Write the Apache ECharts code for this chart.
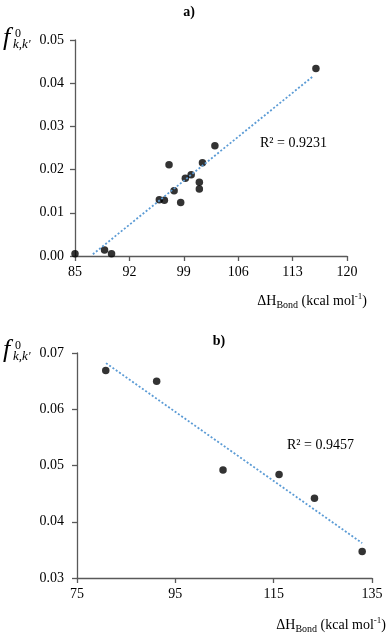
<!DOCTYPE html>
<html>
<head>
<meta charset="utf-8">
<script src="https://cdn.jsdelivr.net/npm/echarts@6/dist/echarts.min.js"></script>
<style>
  html, body { margin: 0; padding: 0; background: #fff; }
  #chart { width: 387px; height: 635px; }
</style>
</head>
<body>
<div id="chart"></div>
<script>
  // panel a) data
  var bondA = [85.0, 88.8, 89.7, 95.85, 96.5, 97.1, 97.75, 98.6, 99.2, 99.95, 101.0, 101.0, 101.4, 103.0, 116.0];
  var fA = [0.0005, 0.0014, 0.0005, 0.0130, 0.0129, 0.0211, 0.0151, 0.0124, 0.0180, 0.0188, 0.0171, 0.0155, 0.0216, 0.0255, 0.0434];
  var trendA = [[87.3, 0.0004], [115.7, 0.0417]];
  var xTicksA = [85, 92, 99, 106, 113, 120];
  var yTicksA = [0, 0.01, 0.02, 0.03, 0.04, 0.05];

  // panel b) data
  var bondB = [80.85, 91.2, 104.7, 116.1, 123.3, 133.0];
  var fB = [0.0669, 0.0650, 0.0492, 0.0484, 0.0442, 0.0347];
  var trendB = [[80.9, 0.0682], [133.0, 0.0362]];
  var xTicksB = [75, 95, 115, 135];
  var yTicksB = [0.03, 0.04, 0.05, 0.06, 0.07];

  var serif = '"Liberation Serif", "DejaVu Serif", serif';
  var axisColor = '#595959';
  var trendColor = '#5B9BD5';

  function pairs(xs, ys) {
    return xs.map(function (x, i) { return [x, ys[i]]; });
  }

  function xAxis(idx, ticks) {
    return {
      type: 'value', gridIndex: idx,
      min: ticks[0], max: ticks[ticks.length - 1],
      splitLine: { show: false },
      axisLine: { show: true, onZero: false, lineStyle: { color: axisColor, width: 1.3 } },
      axisTick: { show: true, length: 5, customValues: ticks, lineStyle: { color: axisColor, width: 1.3 } },
      axisLabel: { customValues: ticks, margin: 9, color: '#000', fontFamily: serif, fontSize: 14 }
    };
  }

  function yAxis(idx, ticks, margin) {
    return {
      type: 'value', gridIndex: idx,
      min: ticks[0], max: ticks[ticks.length - 1],
      splitLine: { show: false },
      axisLine: { show: true, onZero: false, lineStyle: { color: axisColor, width: 1.3 } },
      axisTick: { show: true, length: 5, customValues: ticks, lineStyle: { color: axisColor, width: 1.3 } },
      axisLabel: {
        customValues: ticks, margin: margin, color: '#000', fontFamily: serif, fontSize: 14,
        formatter: function (v) { return v.toFixed(2); }
      }
    };
  }

  var richName = {
    m: { fontFamily: serif, fontSize: 14, color: '#000', lineHeight: 18 },
    sub: { fontFamily: serif, fontSize: 10, color: '#000', verticalAlign: 'bottom', lineHeight: 10 },
    sup: { fontFamily: serif, fontSize: 9, color: '#000', verticalAlign: 'top', lineHeight: 9 }
  };

  // f^0_{k,k'} built from three small texts
  function fLabel(x, y) {
    return {
      type: 'group', x: x, y: y,
      children: [
        { type: 'text', x: 0, y: -3, style: { text: 'f', font: 'italic 26px ' + serif, fill: '#000' } },
        { type: 'text', x: 12, y: 0, style: { text: '0', font: '12px ' + serif, fill: '#000' } },
        { type: 'text', x: 10, y: 10, style: { text: 'k,k\'', font: 'italic 13px ' + serif, fill: '#000' } }
      ]
    };
  }

  function xName(right, y) {
    return {
      type: 'text', x: right, y: y,
      style: {
        text: '{m|ΔH}{sub|Bond}{m| (kcal mol}{sup|-1}{m|)}',
        rich: richName, align: 'right', verticalAlign: 'middle'
      }
    };
  }

  var chart = echarts.init(document.getElementById('chart'));
  var option = {
    backgroundColor: '#fff',
    animation: false,
    title: [
      { text: 'a)', left: 184, top: 0, textAlign: 'center',
        textStyle: { fontFamily: serif, fontSize: 14, fontWeight: 'bold', color: '#000' } },
      { text: 'b)', left: 214, top: 329, textAlign: 'center',
        textStyle: { fontFamily: serif, fontSize: 14, fontWeight: 'bold', color: '#000' } }
    ],
    grid: [
      { left: 75, top: 40, width: 272, height: 216 },
      { left: 77, top: 353, width: 295, height: 225 }
    ],
    xAxis: [xAxis(0, xTicksA), xAxis(1, xTicksB)],
    yAxis: [yAxis(0, yTicksA, 11), yAxis(1, yTicksB, 13)],
    graphic: [
      fLabel(3, 28),
      fLabel(3, 340),
      xName(367, 301),
      xName(386, 625),
      { type: 'text', x: 260, y: 136, style: { text: 'R² = 0.9231', font: '14px ' + serif, fill: '#000' } },
      { type: 'text', x: 287, y: 438, style: { text: 'R² = 0.9457', font: '14px ' + serif, fill: '#000' } }
    ],
    series: [
      {
        type: 'line', xAxisIndex: 0, yAxisIndex: 0, data: trendA,
        symbol: 'none', silent: true,
        lineStyle: { color: trendColor, width: 1.8, type: [2, 2] }
      },
      {
        type: 'scatter', xAxisIndex: 0, yAxisIndex: 0, data: pairs(bondA, fA),
        symbolSize: 7.5, itemStyle: { color: '#000' }
      },
      {
        type: 'line', xAxisIndex: 1, yAxisIndex: 1, data: trendB,
        symbol: 'none', silent: true,
        lineStyle: { color: trendColor, width: 1.8, type: [2, 2] }
      },
      {
        type: 'scatter', xAxisIndex: 1, yAxisIndex: 1, data: pairs(bondB, fB),
        symbolSize: 7.5, itemStyle: { color: '#000' }
      }
    ]
  };
  chart.setOption(option);
</script>
</body>
</html>
